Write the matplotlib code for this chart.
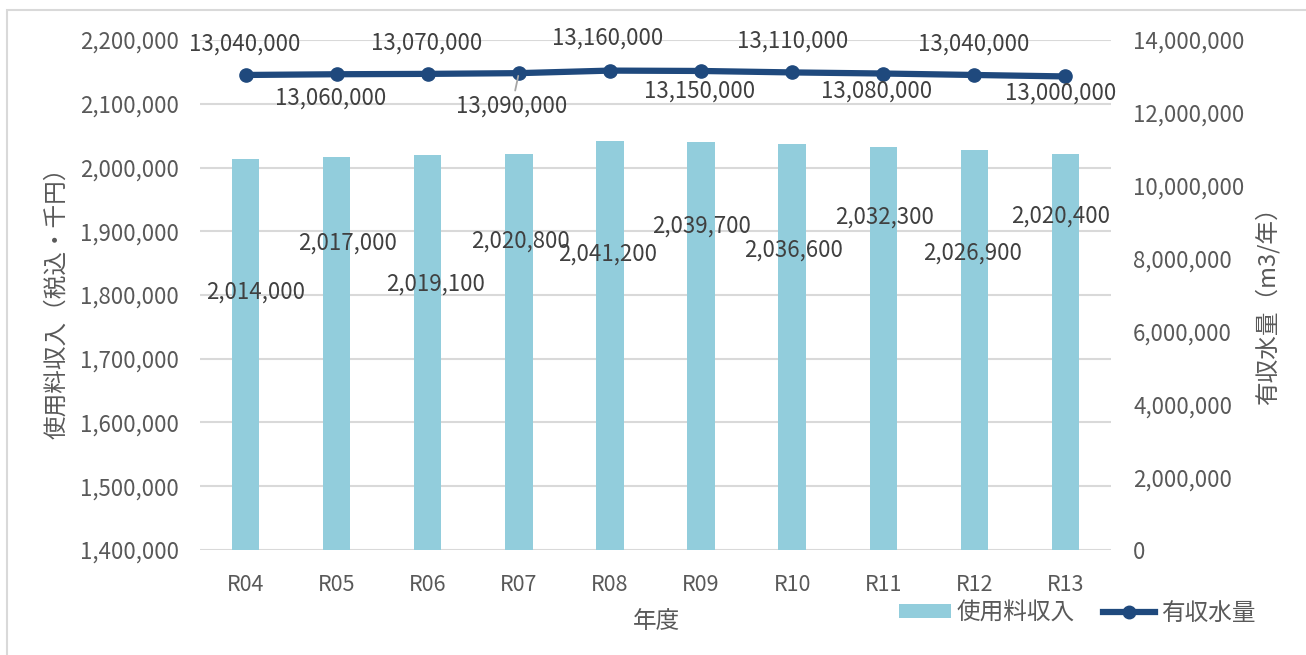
import matplotlib
matplotlib.use("Agg")
import matplotlib.pyplot as plt
from matplotlib.patches import Rectangle, Patch
from matplotlib.ticker import FuncFormatter, MultipleLocator
from matplotlib.lines import Line2D

plt.rcParams['font.family'] = ['Noto Sans CJK JP', 'DejaVu Sans']

# data
years = ["R04", "R05", "R06", "R07", "R08", "R09", "R10", "R11", "R12", "R13"]
revenue = [2014000, 2017000, 2019100, 2020800, 2041200, 2039700, 2036600, 2032300, 2026900, 2020400]
water = [13040000, 13060000, 13070000, 13090000, 13160000, 13150000, 13110000, 13080000, 13040000, 13000000]

# label placement (pixel offsets from each mark)
bar_lbl_off = [(10, -134), (11, -86), (8, -129), (2, -87), (-2, -113),
               (0, -84), (1, -106), (1, -70), (-2, -103), (-5, -62)]
line_lbl_off = [(-1, 31), (-6, -24), (-1, 31), (-7, -33), (-2, 32),
                (-1, -20), (0, 31), (-7, -18), (-1, 31), (-5, -17)]

BAR = "#92CDDC"
LINE = "#1F497D"
TXT = "#595959"
LBL = "#404040"
GRID = "#D9D9D9"
NUM_FS = 16

W, H = 1306, 655
fig = plt.figure(figsize=(W / 100, H / 100), dpi=100)
# chart-area frame (left and top edges visible)
fig.patches.append(Rectangle((7 / W, -0.2), 1.2, 1.2 - 10 / H, transform=fig.transFigure,
                             fill=False, edgecolor="#D9D9D9", linewidth=1.5))

ax = fig.add_axes([200 / W, 1 - 550 / H, 911 / W, 510 / H])
ax2 = ax.twinx()

x = list(range(len(years)))
ax.bar(x, revenue, width=0.3, color=BAR, zorder=2)
ax.set_xlim(-0.5, len(years) - 0.5)
ax.set_ylim(1400000, 2200000)
ax.yaxis.set_major_locator(MultipleLocator(100000))
ax.yaxis.set_major_formatter(FuncFormatter(lambda v, p: f"{v:,.0f}"))
ax.grid(axis="y", color=GRID, linewidth=1.5, zorder=0)
ax.set_axisbelow(True)
ax.set_xticks(x)
ax.set_xticklabels(years)

ax2.plot(x, water, color=LINE, linewidth=4.5, marker="o", markersize=9.5,
         solid_capstyle="round", zorder=3)
ax2.set_ylim(0, 14000000)
ax2.yaxis.set_major_locator(MultipleLocator(2000000))
ax2.yaxis.set_major_formatter(FuncFormatter(lambda v, p: f"{v:,.0f}"))

for a in (ax, ax2):
    for s in a.spines.values():
        s.set_visible(False)
    a.tick_params(length=0, labelsize=NUM_FS, labelcolor=TXT)
ax.tick_params(axis="y", pad=15)
ax2.tick_params(axis="y", pad=16)
ax.tick_params(axis="x", pad=17, labelsize=15.5)

for xi, v, (dx, dy) in zip(x, revenue, bar_lbl_off):
    ax.annotate(f"{v:,}", (xi, v), xytext=(dx, dy), textcoords="offset pixels",
                ha="center", va="center", fontsize=NUM_FS, color=LBL, zorder=5)

for i, (xi, v, (dx, dy)) in enumerate(zip(x, water, line_lbl_off)):
    arrow = None
    if i == 3:
        arrow = dict(arrowstyle="-", color="#A6A6A6", lw=1.3, shrinkA=1, shrinkB=2)
    ax2.annotate(f"{v:,}", (xi, v), xytext=(dx, dy), textcoords="offset pixels",
                 ha="center", va="center", fontsize=NUM_FS, color=LBL,
                 arrowprops=arrow, zorder=5)

fig.text(57 / W, 1 - 297 / H, "使用料収入（税込・千円）", rotation=90, ha="center",
         va="center", fontsize=17, color=TXT)
fig.text(1267 / W, 1 - 300 / H, "有収水量（m3/年）", rotation=90, ha="center",
         va="center", fontsize=17, color=TXT)
fig.text(657 / W, 1 - 622 / H, "年度", ha="center", va="center", fontsize=17, color=TXT)

handles = [Patch(facecolor=BAR, edgecolor="none"),
           Line2D([0], [0], color=LINE, lw=4.5, marker="o", markersize=9)]
fig.legend(handles, ["使用料収入", "有収水量"], loc="center", ncol=2,
           bbox_to_anchor=(1077 / W, 1 - 613 / H), frameon=False, fontsize=17,
           labelcolor=TXT, handlelength=2.2, handleheight=0.5, columnspacing=1.2,
           handletextpad=0.25, borderpad=0, borderaxespad=0)

fig.savefig("out.png", dpi=100)
